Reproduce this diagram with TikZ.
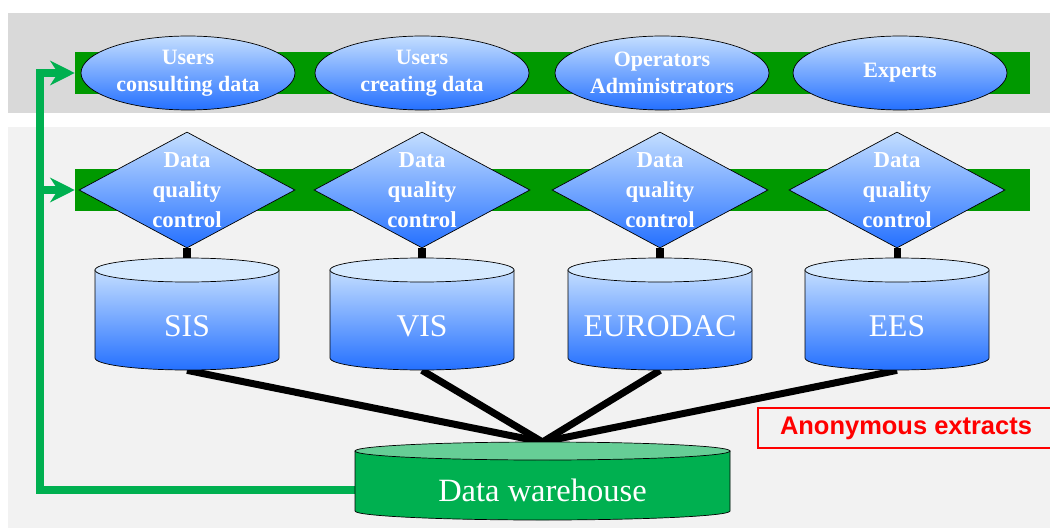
\documentclass[tikz,border=0pt]{standalone}
\usepackage{fontspec}
\setmainfont{Liberation Serif}
\newfontfamily\labelfont{Liberation Sans}
\usetikzlibrary{shapes.geometric,arrows.meta}
\definecolor{bandgray}{RGB}{217,217,217}
\definecolor{panelgray}{RGB}{242,242,242}
\definecolor{bargreen}{RGB}{0,153,0}
\definecolor{dwgreen}{RGB}{0,176,80}
\definecolor{dwtopgreen}{RGB}{102,206,150}
\definecolor{lightblue}{RGB}{196,222,255}
\definecolor{deepblue}{RGB}{36,112,255}
\definecolor{capblue}{RGB}{214,234,255}
\pgfdeclarelayer{bg}
\pgfdeclarelayer{lines}
\pgfsetlayers{bg,lines,main}
\begin{document}
\begin{tikzpicture}[x=0.02cm,y=0.02cm,
  user/.style={ellipse,draw=black,top color=lightblue,bottom color=deepblue,minimum width=4.28cm,minimum height=1.48cm,inner sep=0pt,text=white,align=center,font=\fontsize{12.5}{15.5}\selectfont\bfseries},
  dq/.style={diamond,draw=black,top color=lightblue,bottom color=deepblue,minimum width=4.32cm,minimum height=2.32cm,inner sep=0pt},
  dqtext/.style={text=white,align=center,font=\fontsize{13}{17}\selectfont\bfseries},
  dbtext/.style={minimum width=3.68cm,minimum height=1.76cm,inner sep=0pt,text=white,font=\fontsize{18}{21}\selectfont},
  bar/.style={fill=bargreen,minimum width=19.1cm,minimum height=0.86cm,inner sep=0pt},
  link/.style={line width=4pt,black},
  feed/.style={line width=4pt,dwgreen,-{Stealth[length=14pt,width=14pt]}}]
  \useasboundingbox (0,0) rectangle (1050,528);
  \begin{pgfonlayer}{bg}
    \fill[bandgray] (8,415) rectangle (1050,515);
    \fill[panelgray] (8,0) rectangle (1050,401);
    \node[bar] (userbar) at (552.5,455) {};
    \node[bar] (dqbar) at (552.5,338) {};
  \end{pgfonlayer}
  \foreach \x/\i/\t in {188/1/Users\\consulting data,422/2/Users\\creating data,662/3/Operators\\Administrators,900/4/Experts}
    \node[user] (u\i) at (\x,455) {\t};
  \foreach \x/\i in {187/1,422/2,660/3,897/4} {
    \node[dq] (dq\i) at (\x,338) {};
    \node[dqtext] at (dq\i) {Data\\quality\\control};
  }
  \foreach \x/\n/\t in {187/sis/SIS,422/vis/VIS,660/eurodac/EURODAC,897/ees/EES} {
    \draw[top color=lightblue,bottom color=deepblue] (\x-92,258) -- (\x-92,170)
      arc[start angle=180,end angle=360,x radius=92,y radius=12] -- (\x+92,258) -- cycle;
    \draw[fill=capblue] (\x,258) ellipse[x radius=92,y radius=12];
    \node[dbtext] (\n) at (\x,202) {\t};
  }
  \draw[fill=dwgreen] (355,77) -- (355,17) arc[start angle=180,end angle=360,x radius=187.5,y radius=9] -- (730,77) -- cycle;
  \draw[fill=dwtopgreen] (542.5,77) ellipse[x radius=187.5,y radius=9];
  \node[minimum width=7.5cm,minimum height=1.2cm,text=white,font=\fontsize{18.5}{21}\selectfont] (dw) at (542.5,38) {Data warehouse};
  \coordinate (dwtop) at (542.5,86);
  \coordinate (turn) at (40,0);
  \node[draw=red,line width=1pt,text=red,minimum width=5.92cm,minimum height=0.8cm,font=\labelfont\bfseries\fontsize{14.5}{17}\selectfont] (anon) at (906,100) {Anonymous extracts};
  \begin{pgfonlayer}{lines}
    \foreach \i/\n in {1/sis,2/vis,3/eurodac,4/ees} {
      \draw[link] (dq\i.south) -- (\n.north);
      \draw[link] (\n.south) -- (dwtop);
    }
    \draw[feed] (dw.west) -- (dw.west -| turn) |- (userbar.west);
    \draw[feed] (turn |- dqbar.west) -- (dqbar.west);
  \end{pgfonlayer}
\end{tikzpicture}
\end{document}
